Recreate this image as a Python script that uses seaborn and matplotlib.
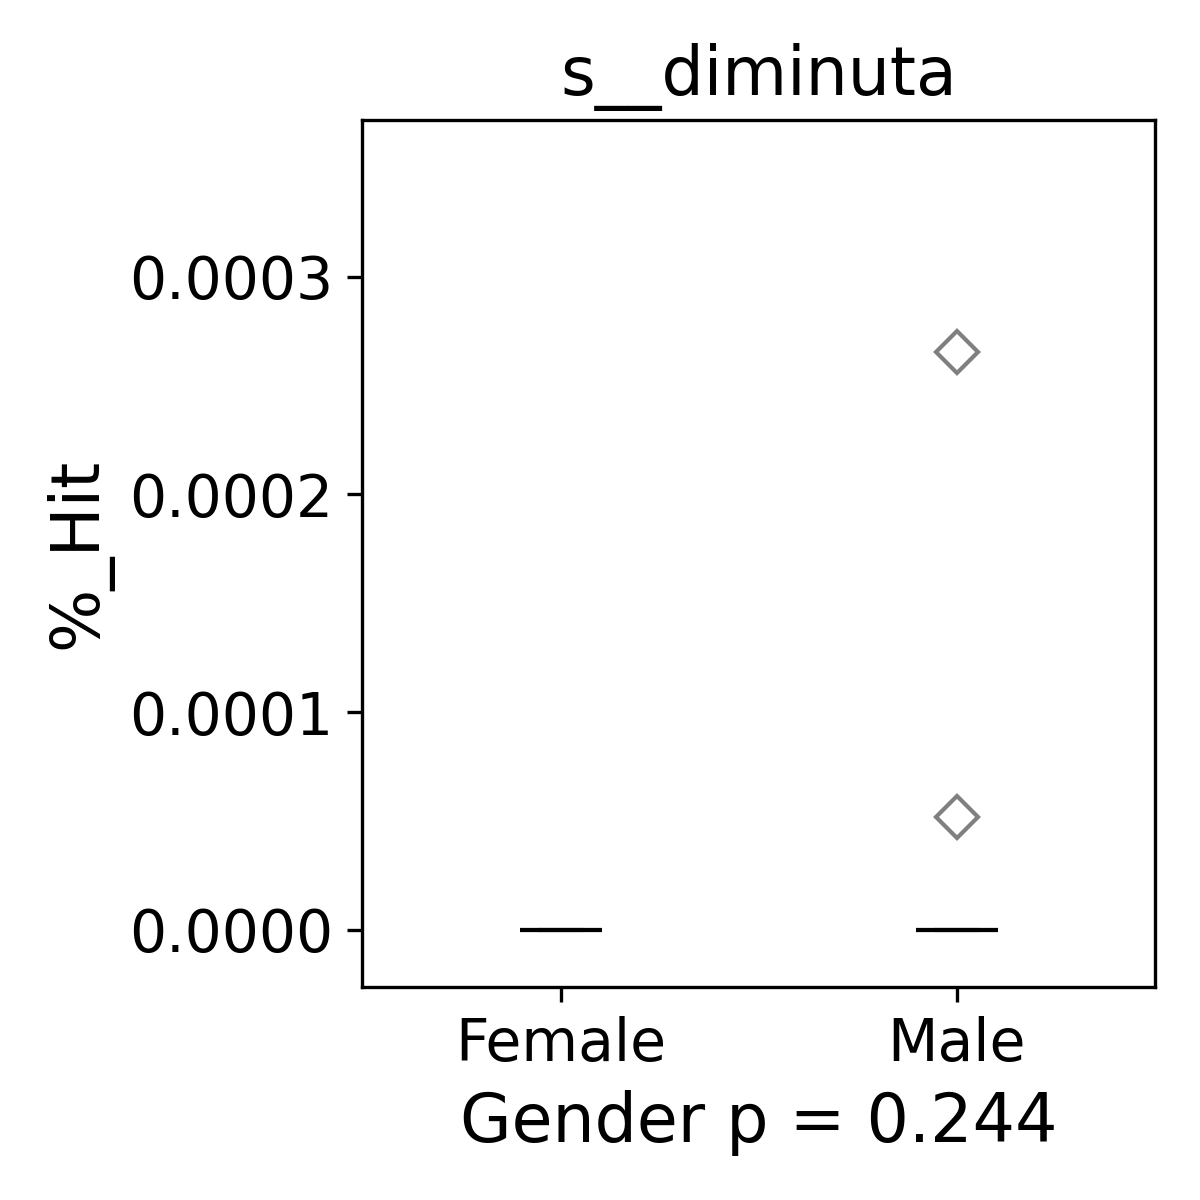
import matplotlib
matplotlib.use("Agg")
import matplotlib.pyplot as plt
import seaborn as sns
import pandas as pd

# values per group
female_hit = [0.0, 0.0, 0.0, 0.0, 0.0, 0.0, 0.0, 0.0, 0.0, 0.0]
male_hit = [0.0, 0.0, 0.0, 0.0, 0.0, 0.0, 0.0, 0.0, 0.0, 0.0, 0.0000519, 0.0002655]
groups = ["Female", "Male"]

df = pd.DataFrame({
    "Gender": ["Female"] * len(female_hit) + ["Male"] * len(male_hit),
    "%_Hit": female_hit + male_hit,
})

fig = plt.figure(figsize=(4, 4), dpi=300)
ax = fig.add_axes([0.302, 0.1775, 0.6605, 0.7225])

sns.boxplot(
    data=df, x="Gender", y="%_Hit", order=groups, width=0.207, ax=ax,
    color="white", linecolor="gray", linewidth=1,
    medianprops={"color": "black"},
    flierprops={"marker": "D", "markersize": 7, "markerfacecolor": "none",
                "markeredgecolor": "gray", "markeredgewidth": 1},
)

ax.set_ylim(-0.0000262, 0.000372)
ax.set_yticks([0.0, 0.0001, 0.0002, 0.0003])
ax.set_yticklabels(["0.0000", "0.0001", "0.0002", "0.0003"])
ax.tick_params(labelsize=14)
ax.set_title("s__diminuta", fontsize=16)
ax.set_xlabel("Gender p = 0.244", fontsize=16)
ax.set_ylabel("%_Hit", fontsize=16)

plt.savefig("out.png", dpi=300)
plt.close()
